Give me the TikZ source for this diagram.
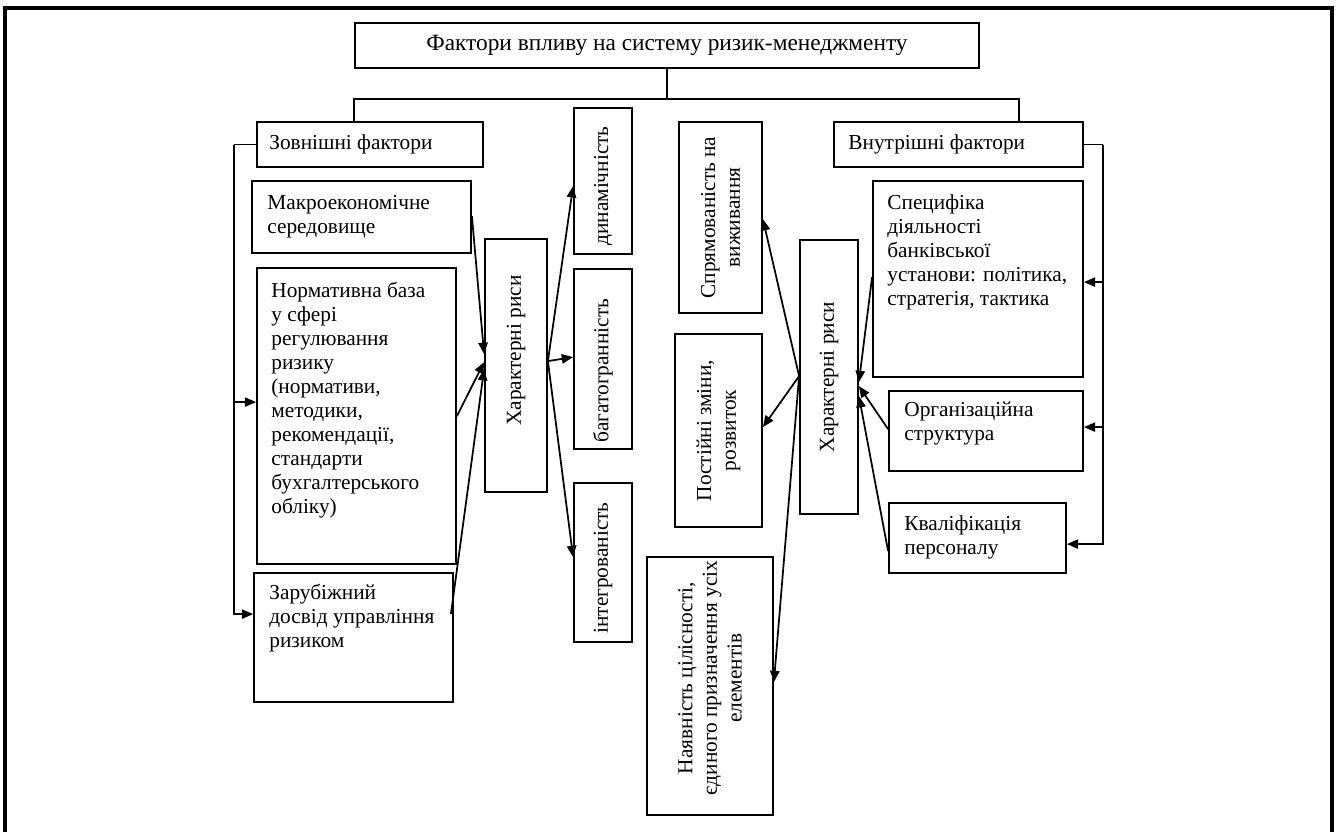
\documentclass[tikz,border=0pt]{standalone}
\usepackage{fontspec}
\setmainfont{Liberation Serif}
\usetikzlibrary{arrows.meta,calc,fit}
\begin{document}
\begin{tikzpicture}[x=0.75pt,y=-0.75pt,
  box/.style={draw, line width=1.35pt, inner sep=0pt},
  txt/.style={inner sep=0pt, align=left, font=\fontsize{16pt}{18pt}\selectfont, anchor=north west},
  vtxt/.style={inner sep=0pt, align=center, font=\fontsize{16pt}{18.5pt}\selectfont, rotate=90},
  link/.style={line width=1.3pt},
  arr/.style={line width=1.3pt, -{Triangle[length=8.5pt,width=7pt]}},
]
\useasboundingbox (0,0) rectangle (1336,832);
\draw[line width=2.6pt] (5,840) -- (5,8) -- (1332,8) -- (1332,840);

% boxes
\node[box, fit={(355,23) (979,68)}] (title) {};
\node[box, fit={(257,122) (483,167)}] (zovn) {};
\node[box, fit={(834,122) (1083,167)}] (vnutr) {};
\node[box, fit={(252,181) (471,253)}] (macro) {};
\node[box, fit={(257,268) (456,564)}] (norm) {};
\node[box, fit={(254,573) (453,702)}] (zar) {};
\node[box, fit={(485,239) (547,492)}] (charL) {};
\node[box, fit={(574,108) (632,254)}] (din) {};
\node[box, fit={(574,269) (632,449)}] (bag) {};
\node[box, fit={(574,483) (632,642)}] (integ) {};
\node[box, fit={(679,122) (762,313)}] (sprm) {};
\node[box, fit={(675,334) (762,527)}] (post) {};
\node[box, fit={(647,557) (773,815)}] (nayav) {};
\node[box, fit={(800,240) (858,514)}] (charR) {};
\node[box, fit={(873,181) (1083,377)}] (spec) {};
\node[box, fit={(889,391) (1083,471)}] (org) {};
\node[box, fit={(889,503) (1066,573)}] (kval) {};

% texts
\node[txt, anchor=center, font=\fontsize{17.5pt}{20pt}\selectfont] at (title.center) {Фактори впливу на систему ризик-менеджменту};
\node[txt, anchor=west] at ($(zovn.west)+(13,0)$) {Зовнішні фактори};
\node[txt, anchor=west] at ($(vnutr.west)+(15,0)$) {Внутрішні фактори};
\node[txt] at ($(macro.north west)+(16,15)$) {Макроекономічне\\середовище};
\node[txt] at ($(norm.north west)+(15,15)$) {Нормативна база\\у сфері\\регулювання\\ризику\\(нормативи,\\методики,\\рекомендації,\\стандарти\\бухгалтерського\\обліку)};
\node[txt] at ($(zar.north west)+(16,12)$) {Зарубіжний\\досвід управління\\ризиком};
\node[txt] at ($(spec.north west)+(15,14)$) {Специфіка\\діяльності\\банківської\\установи: політика,\\стратегія, тактика};
\node[txt] at ($(org.north west)+(16,12)$) {Організаційна\\структура};
\node[txt] at ($(kval.north west)+(16,13)$) {Кваліфікація\\персоналу};
\node[vtxt] at ($(charL.center)+(0,-15)$) {Характерні риси};
\node[vtxt] at (charR.center) {Характерні риси};
\node[vtxt, anchor=west] at ($(din.south)+(0,-9)$) {динамічність};
\node[vtxt, anchor=west] at ($(bag.south)+(0,-7)$) {багатогранність};
\node[vtxt, anchor=west] at ($(integ.south)+(0,-9)$) {інтегрованість};
\node[vtxt] at (sprm.center) {Спрямованість на\\виживання};
\node[vtxt] at (post.center) {Постійні зміни,\\розвиток};
\node[vtxt] at ($(nayav.center)+(0,-8)$) {Наявність цілісності,\\єдиного призначення усіх\\елементів};

% tree
\draw[link] (title.south) -- ++(0,30) coordinate (bus);
\draw[link] (bus) -| ($(zovn.north west)+(98,0)$);
\draw[link] (bus) -| ($(vnutr.north west)+(186,0)$);

% left bracket
\draw[link] (zovn.west) -- ++(-22,0) coordinate (lb);
\draw[arr] (lb) |- ($(norm.north west)+(0,135)$);
\draw[arr] (lb) |- ($(zar.north west)+(0,42)$);

% right bracket
\draw[link] (vnutr.east) -- ++(19,0) coordinate (rb);
\draw[arr] (rb) |- ($(spec.north east)+(0,102)$);
\draw[arr] (rb) |- ($(org.north east)+(0,37)$);
\draw[arr] (rb) |- ($(kval.north east)+(0,42)$);

% into left characteristic
\draw[arr] ($(macro.north east)+(0,36)$) -- ($(charL.north west)+(0,116)$);
\draw[arr] ($(norm.north east)+(0,149)$) -- ($(charL.north west)+(0,124)$);
\draw[arr] ($(zar.north east)+(-3,42)$) -- ($(charL.north west)+(0,131)$);

% out of left characteristic
\coordinate (lo) at ($(charL.north east)+(0,123)$);
\draw[arr] (lo) -- ($(din.north west)+(0,79)$);
\draw[arr] (lo) -- ($(bag.north west)+(0,89)$);
\draw[arr] (lo) -- ($(integ.north west)+(0,75)$);

% out of right characteristic
\coordinate (ro) at ($(charR.north west)+(0,137)$);
\draw[arr] (ro) -- ($(sprm.north east)+(0,98)$);
\draw[arr] (ro) -- ($(post.north east)+(0,94)$);
\draw[arr] (ro) -- ($(nayav.north east)+(0,126)$);

% into right characteristic
\draw[arr] ($(spec.north west)+(0,97)$) -- ($(charR.north east)+(0,143)$);
\draw[arr] ($(org.north west)+(0,39)$) -- ($(charR.north east)+(0,147)$);
\draw[arr] ($(kval.north west)+(0,49)$) -- ($(charR.north east)+(0,157)$);
\end{tikzpicture}
\end{document}
